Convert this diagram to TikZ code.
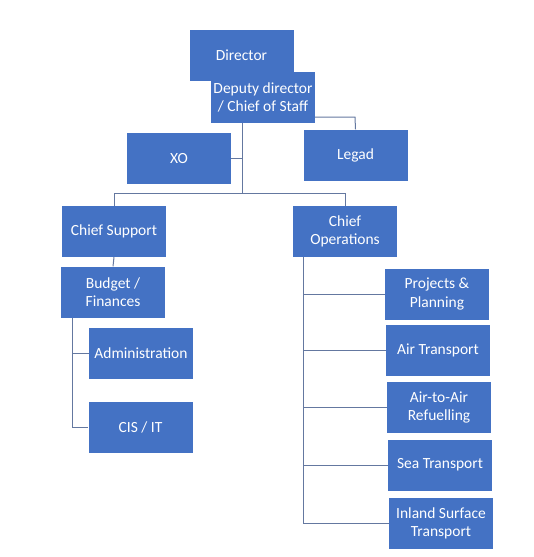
\documentclass[tikz,border=0pt]{standalone}
\usepackage{fontspec}
\setmainfont{Carlito}
\definecolor{boxblue}{HTML}{4472C4}
\definecolor{linecol}{HTML}{6478A0}
\begin{document}
\begin{tikzpicture}[x=1pt,y=-1pt,
  box/.style={fill=boxblue, draw=none, text=white, minimum width=104pt, minimum height=51pt,
    inner sep=1pt, align=center, font=\fontsize{15.5}{18.5}\selectfont},
  conn/.style={draw=linecol, line width=1pt}]
\fill[white] (0,0) rectangle (533,557);
\useasboundingbox (0,0) rectangle (533,557);
% boxes
\node[box] (dir) at (241.5,55) {Director};
\node[box] (dep) at (263,97.5) {Deputy director\\/ Chief of Staff};
\node[box] (xo) at (179,158.5) {XO};
\node[box] (leg) at (355.5,155) {Legad};
\node[box] (cs) at (114,231.5) {Chief Support};
\node[box] (co) at (345,231.5) {Chief\\Operations};
\node[box] (bud) at (113,292) {Budget /\\Finances};
\node[box] (adm) at (141,353) {Administration};
\node[box] (cis) at (140.5,427.5) {CIS / IT};
\node[box] (pp) at (437,294) {Projects \&\\Planning};
\node[box] (air) at (438,350.5) {Air Transport};
\node[box] (aar) at (439,407.5) {Air-to-Air\\Refuelling};
\node[box] (sea) at (440,465) {Sea Transport};
\node[box] (inl) at (441,523.5) {Inland Surface\\Transport};
% helper coordinates
\coordinate (hub) at (242,193);
\coordinate (lg) at (355,117);
\coordinate (lv) at (72,317);
\coordinate (rv) at (303,257);
% connectors
\draw[conn] (dep.south -| hub) -- (hub);
\draw[conn] (xo.east) -- (xo.east -| hub);
\draw[conn] (dep.east |- lg) -- (lg) -- (leg.north);
\draw[conn] (cs.north) -- (cs.north |- hub) -- (co.north |- hub) -- (co.north);
\draw[conn] (cs.south) -- (bud.north);
\draw[conn] (bud.south -| lv) |- (cis.west);
\draw[conn] (adm.west -| lv) -- (adm.west);
\draw[conn] (co.south -| rv) |- (inl.west);
\draw[conn] (pp.west -| rv) -- (pp.west);
\draw[conn] (air.west -| rv) -- (air.west);
\draw[conn] (aar.west -| rv) -- (aar.west);
\draw[conn] (sea.west -| rv) -- (sea.west);
\end{tikzpicture}
\end{document}
